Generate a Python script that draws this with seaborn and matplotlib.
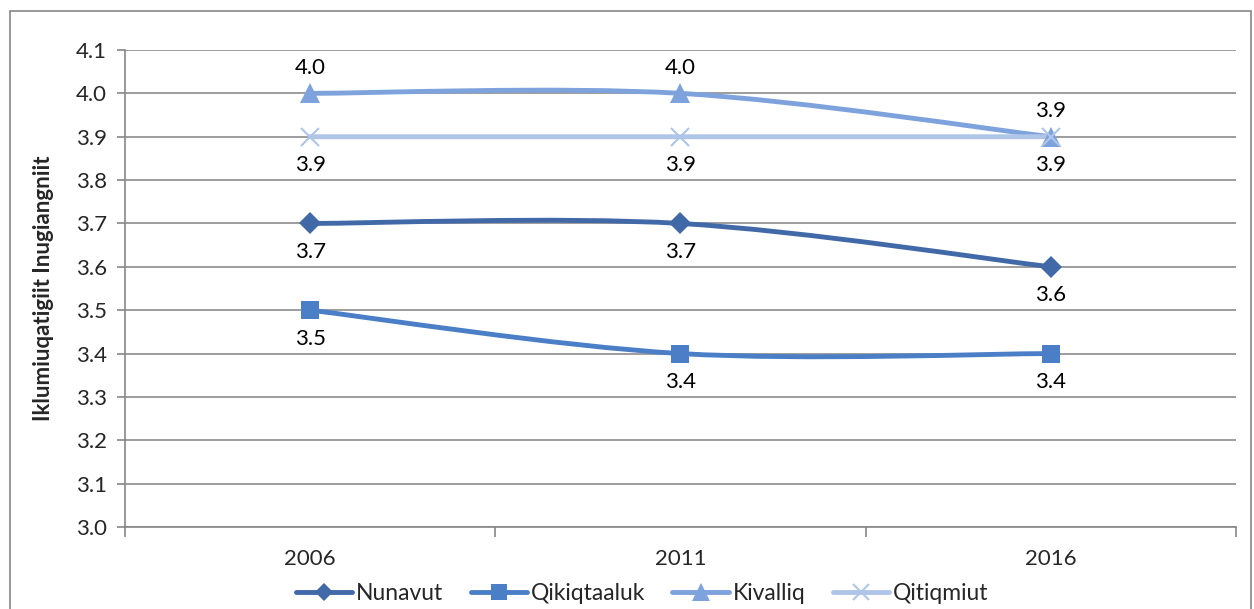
import numpy as np
import pandas as pd
import seaborn as sns
import matplotlib.pyplot as plt
from matplotlib.path import Path
from matplotlib.patches import PathPatch, Rectangle
from matplotlib.lines import Line2D

years = ["2006", "2011", "2016"]
regions = ["Nunavut", "Qikiqtaaluk", "Kivalliq", "Qitiqmiut"]
nunavut = [3.7, 3.7, 3.6]
qikiqtaaluk = [3.5, 3.4, 3.4]
kivalliq = [4.0, 4.0, 3.9]
qitiqmiut = [3.9, 3.9, 3.9]
y_label = "Iklumiuqatigiit Inugiangniit"

colors = {"Nunavut": "#4169A8", "Qikiqtaaluk": "#4A7EC6",
          "Kivalliq": "#7EA2DC", "Qitiqmiut": "#AFC5E7"}
markers = {"Nunavut": "D", "Qikiqtaaluk": "s", "Kivalliq": "^", "Qitiqmiut": "x"}
msizes = {"Nunavut": 11, "Qikiqtaaluk": 13, "Kivalliq": 15, "Qitiqmiut": 13}
# where the data label sits: +1 above, -1 below
label_side = {"Nunavut": -1, "Qikiqtaaluk": -1, "Kivalliq": 1, "Qitiqmiut": -1}

series = dict(zip(regions, [nunavut, qikiqtaaluk, kivalliq, qitiqmiut]))
df = pd.DataFrame([(r, i, v) for r in regions for i, v in enumerate(series[r])],
                  columns=["region", "pos", "value"])

sns.set_theme(style="white")
plt.rcParams["font.family"] = ["Lato", "DejaVu Sans"]

fig = plt.figure(figsize=(12.54, 6.09), dpi=100)
ax = fig.add_axes([0.0997, 0.1346, 0.8859, 0.7833])

# chart border
fig.patches.append(Rectangle((10 / 1254, -0.01), 1241 / 1254, 1 - 11 / 609 + 0.01,
                             transform=fig.transFigure, fill=False,
                             edgecolor="#868686", linewidth=1.2))


def smooth_path(xs, ys):
    # Bezier segments through the points (Excel-like smoothed line)
    pts = np.column_stack([xs, ys]).astype(float)
    n = len(pts)
    verts = [pts[0]]
    codes = [Path.MOVETO]
    for i in range(n - 1):
        p0 = pts[i - 1] if i > 0 else pts[i]
        p1, p2 = pts[i], pts[i + 1]
        p3 = pts[i + 2] if i + 2 < n else pts[i + 1]
        c1 = p1 + (p2 - p0) / 6
        c2 = p2 - (p3 - p1) / 6
        verts += [c1, c2, p2]
        codes += [Path.CURVE4] * 3
    return Path(verts, codes)


for r in regions:
    sub = df[df.region == r]
    ax.add_patch(PathPatch(smooth_path(sub.pos, sub.value), fill=False,
                           edgecolor=colors[r], linewidth=3.5, zorder=3,
                           capstyle="round"))
    sns.lineplot(data=sub, x="pos", y="value", color=colors[r], marker=markers[r],
                 markersize=msizes[r], markeredgewidth=1.5 if r == "Qitiqmiut" else 0,
                 markeredgecolor=colors[r], linestyle="", ax=ax, legend=False, zorder=4)

for line in ax.lines:
    line.set_linestyle("")

for r in regions:
    sub = df[df.region == r]
    for x, v in zip(sub.pos, sub.value):
        off = 18.5 if label_side[r] > 0 else -20.5
        ax.annotate(f"{v:.1f}", (x, v), xytext=(0, off), textcoords="offset points",
                    ha="center", va="center", fontsize=16, color="black")

ax.set_xlim(-0.5, 2.5)
ax.set_ylim(3.0, 4.1)
ax.set_yticks(np.arange(3.0, 4.11, 0.1))
ax.set_yticklabels([f"{t:.1f}" for t in np.arange(3.0, 4.11, 0.1)], fontsize=16)
ax.set_xticks([-0.5, 0.5, 1.5, 2.5])
ax.set_xticklabels([])
ax.set_xticks([0, 1, 2], minor=True)
ax.set_xticklabels(years, minor=True, fontsize=16)
ax.tick_params(axis="x", which="major", length=7, color="#868686", width=1.2,
               direction="out", bottom=True)
ax.tick_params(axis="x", which="minor", length=0, pad=16)
ax.tick_params(axis="y", length=6, color="#868686", width=1.2, direction="out",
               left=True, pad=7)
ax.grid(axis="y", color="#8c8c8c", linewidth=1.2)
ax.set_axisbelow(True)
for s in ["top", "right"]:
    ax.spines[s].set_visible(False)
for s in ["left", "bottom"]:
    ax.spines[s].set_color("#868686")
    ax.spines[s].set_linewidth(1.2)
ax.set_xlabel("")
ax.set_ylabel(y_label, fontsize=16, fontweight="bold", labelpad=16)

handles = [Line2D([], [], color=colors[r], linewidth=3.5, marker=markers[r],
                  markersize=msizes[r] - 2,
                  markeredgewidth=1.5 if r == "Qitiqmiut" else 0) for r in regions]
fig.legend(handles, regions, loc="center", bbox_to_anchor=(0.512, 0.026), ncol=4,
           frameon=False, fontsize=16.5, handlelength=2.45, handletextpad=0.17,
           columnspacing=1.2)

fig.savefig("out.png", dpi=100)
